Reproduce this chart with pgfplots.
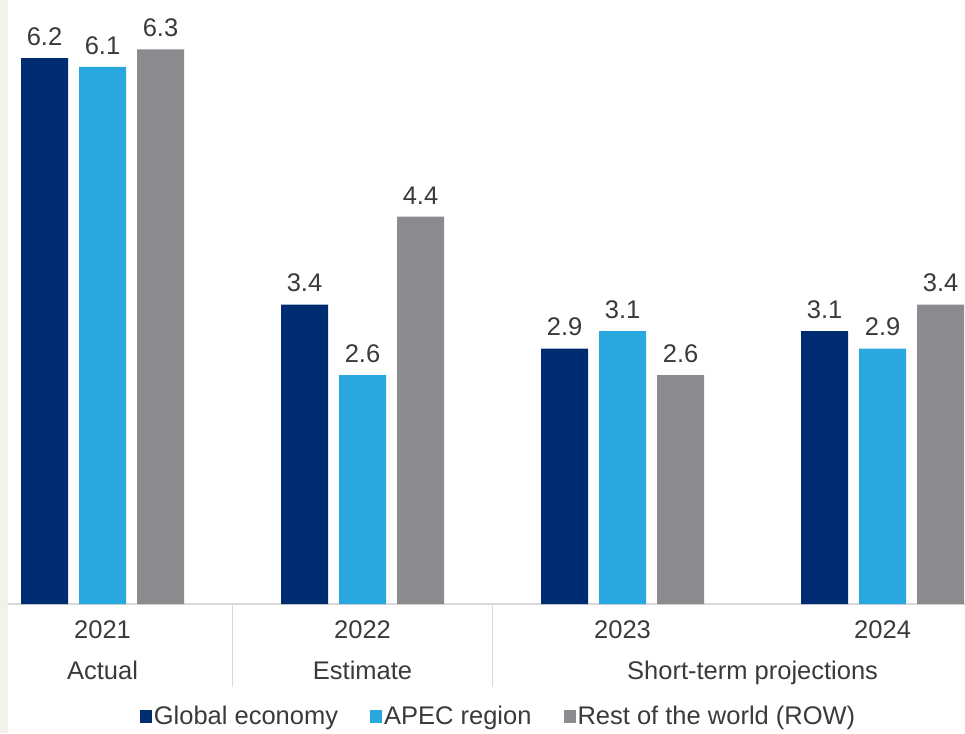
\documentclass[border=0pt]{standalone}
\usepackage{pgfplots}
\pgfplotsset{compat=1.18}
\usepackage{fontspec}
\setmainfont{Liberation Sans}
\definecolor{cnavy}{HTML}{002D72}
\definecolor{cblue}{HTML}{29A8E0}
\definecolor{cgrey}{HTML}{898B8E}
\definecolor{cbeige}{HTML}{F3F1EB}
\definecolor{caxis}{HTML}{D9D9D9}
\definecolor{ctext}{HTML}{3A3A3A}
\begin{document}
\begin{tikzpicture}
\useasboundingbox (0,0) rectangle (965pt,733pt);
\fill[cbeige] (0,0) rectangle (8pt,733pt);
\begin{axis}[
  at={(8pt,129pt)}, anchor=south west,
  scale only axis, width=957pt, height=604pt,
  xmin=-0.3635, xmax=3.317, ymin=0, ymax=6.86,
  axis y line=none, axis x line*=bottom,
  axis line style={draw=caxis, line width=1.5pt, -},
  ybar, bar width=47pt,
  xtick={0,1,2,3}, xticklabels={2021,2022,2023,2024},
  major tick length=0pt,
  xticklabel style={anchor=base, yshift=-34pt},
  font=\fontsize{25.5}{30}\selectfont,
  /pgf/number format/assume math mode=true,
  /pgf/number format/fixed, /pgf/number format/precision=1,
  /pgf/number format/fixed zerofill,
  nodes near coords,
  every node near coord/.append style={text=ctext, yshift=9pt, font=\fontsize{25.5}{30}\selectfont},
  ticklabel style={text=ctext},
  legend columns=3,
  legend style={draw=none, fill=none, at={(0.5126,-0.185)}, anchor=center,
    text=ctext, font=\fontsize{25.5}{30}\selectfont,
    /tikz/every even column/.append style={column sep=30pt}},
  legend image code/.code={\fill (2pt,-7pt) rectangle (14pt,6pt);},
  clip=false,
]
\addplot[fill=cnavy, draw=none, bar shift=-58pt] coordinates {(0,6.2) (1,3.4) (2,2.9) (3,3.1)};
\addplot[fill=cblue, draw=none, bar shift=0pt] coordinates {(0,6.1) (1,2.6) (2,3.1) (3,2.9)};
\addplot[fill=cgrey, draw=none, bar shift=58pt] coordinates {(0,6.3) (1,4.4) (2,2.6) (3,3.4)};
\legend{Global economy, APEC region, Rest of the world (ROW)}
\draw[caxis, line width=1.2pt] (axis cs:0.5,0) -- ++(0pt,-83pt);
\draw[caxis, line width=1.2pt] (axis cs:1.5,0) -- ++(0pt,-83pt);
\node[anchor=base, text=ctext] at (axis cs:0,0) [yshift=-75pt] {Actual};
\node[anchor=base, text=ctext] at (axis cs:1,0) [yshift=-75pt] {Estimate};
\node[anchor=base, text=ctext] at (axis cs:2.5,0) [yshift=-75pt] {Short-term projections};
\end{axis}
\end{tikzpicture}
\end{document}
